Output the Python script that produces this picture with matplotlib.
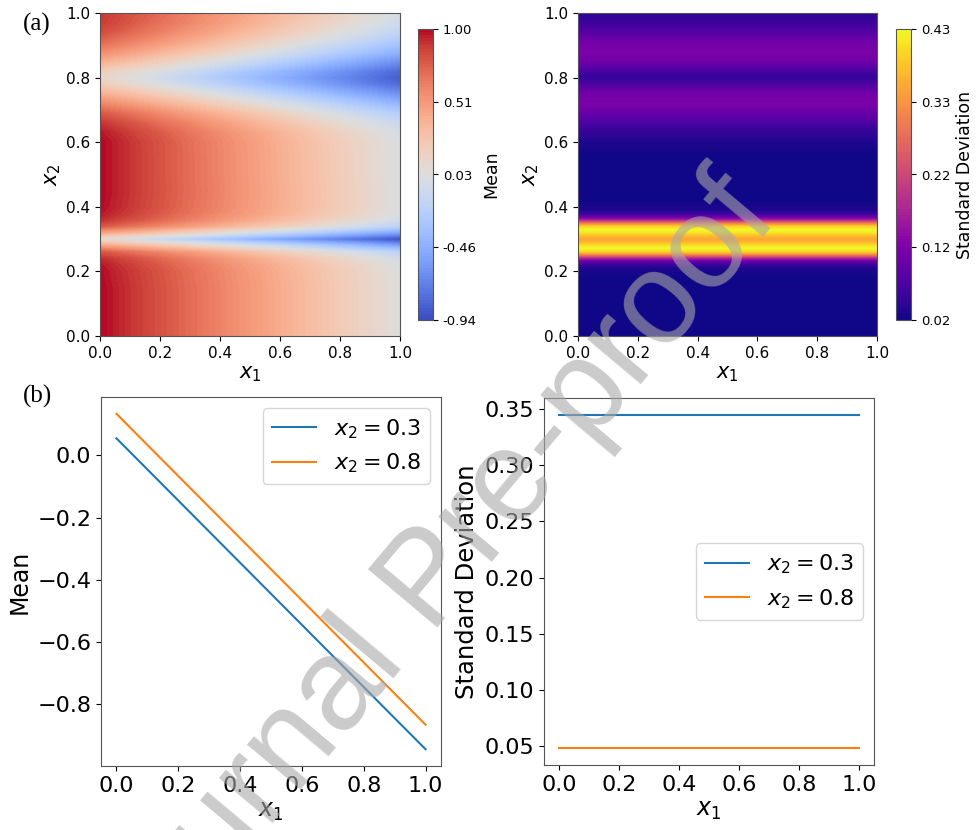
import numpy as np
import matplotlib
matplotlib.use("Agg")
import matplotlib.pyplot as plt
from matplotlib.ticker import FormatStrFormatter

# ---------------- data ----------------
x1_edges = [0.0, 1.0]

# predictive mean along x2 at the two ends of x1
mean_x2 = [0.00, 0.05, 0.10, 0.15, 0.20, 0.22, 0.24, 0.26, 0.28, 0.30, 0.32,
           0.34, 0.36, 0.38, 0.40, 0.45, 0.50, 0.55, 0.60, 0.63, 0.66, 0.69,
           0.72, 0.75, 0.78, 0.80, 0.82, 0.85, 0.88, 0.91, 0.94, 0.97, 1.00]
mean_at_x1_0 = [1.00, 1.00, 1.00, 1.00, 0.99, 0.97, 0.92, 0.78, 0.45, 0.055,
                0.45, 0.78, 0.92, 0.97, 0.99, 1.00, 1.00, 1.00, 1.00, 0.97,
                0.90, 0.78, 0.60, 0.40, 0.20, 0.134, 0.20, 0.40, 0.58, 0.72,
                0.82, 0.88, 0.90]
mean_at_x1_1 = [0.03, 0.03, 0.03, 0.03, 0.02, 0.00, -0.06, -0.20, -0.55, -0.945,
                -0.55, -0.20, -0.06, 0.00, 0.02, 0.02, 0.01, 0.01, 0.00, -0.03,
                -0.12, -0.25, -0.44, -0.64, -0.82, -0.866, -0.82, -0.64, -0.45,
                -0.30, -0.17, -0.08, -0.03]

# predictive standard deviation along x2 (constant along x1)
std_x2 = [0.00, 0.10, 0.18, 0.21, 0.22, 0.23, 0.24, 0.25, 0.26, 0.27, 0.28,
          0.29, 0.30, 0.31, 0.32, 0.33, 0.34, 0.35, 0.36, 0.37, 0.38, 0.39,
          0.42, 0.50, 0.56, 0.60, 0.64, 0.68, 0.72, 0.75, 0.78, 0.80, 0.82,
          0.85, 0.88, 0.91, 0.94, 0.97, 1.00]
std_vals = [0.018, 0.018, 0.02, 0.03, 0.05, 0.09, 0.17, 0.29, 0.39, 0.43, 0.41,
            0.37, 0.345, 0.37, 0.41, 0.43, 0.39, 0.29, 0.17, 0.09, 0.05, 0.03,
            0.02, 0.018, 0.02, 0.03, 0.05, 0.09, 0.118, 0.11, 0.07, 0.048, 0.065,
            0.105, 0.12, 0.11, 0.08, 0.055, 0.04]

slice_x2 = [0.3, 0.8]
slice_labels = [r"$x_2 = 0.3$", r"$x_2 = 0.8$"]
slice_colors = ["#1f77b4", "#ff7f0e"]

# ---------------- figure ----------------
W, H = 977, 830
fig = plt.figure(figsize=(W / 100, H / 100), dpi=100)


def px_axes(x0, y0, x1, y1):
    return fig.add_axes([x0 / W, 1 - y1 / H, (x1 - x0) / W, (y1 - y0) / H])


mean_grid = np.column_stack([mean_at_x1_0, mean_at_x1_1])
std_grid = np.column_stack([std_vals, std_vals])

X1m, X2m = np.meshgrid(x1_edges, mean_x2)
X1s, X2s = np.meshgrid(x1_edges, std_x2)

panels = [
    dict(box=(100, 13, 400, 336), cbox=(418, 29, 433, 320), X=X1m, Y=X2m,
         Z=mean_grid, cmap="coolwarm", label="Mean"),
    dict(box=(578, 13, 877, 336), cbox=(896, 29, 911, 320), X=X1s, Y=X2s,
         Z=std_grid, cmap="plasma", label="Standard Deviation"),
]

for p in panels:
    ax = px_axes(*p["box"])
    vmin, vmax = p["Z"].min(), p["Z"].max()
    levels = np.linspace(vmin, vmax, 101)
    cs = ax.contourf(p["X"], p["Y"], p["Z"], levels=levels, cmap=p["cmap"])
    ax.set_xlim(0, 1)
    ax.set_ylim(0, 1)
    ax.set_xticks(np.arange(0, 1.01, 0.2))
    ax.set_yticks(np.arange(0, 1.01, 0.2))
    ax.tick_params(labelsize=11)
    ax.set_xlabel(r"$x_1$", fontsize=15, labelpad=2)
    ax.set_ylabel(r"$x_2$", fontsize=15, labelpad=2)
    for s in ax.spines.values():
        s.set_edgecolor("#555555")
    cax = px_axes(*p["cbox"])
    cb = fig.colorbar(cs, cax=cax, ticks=np.linspace(vmin, vmax, 5))
    cb.ax.yaxis.set_major_formatter(FormatStrFormatter("%.2f"))
    cb.ax.tick_params(labelsize=9.5)
    cb.set_label(p["label"], fontsize=12.5)
    cb.outline.set_edgecolor("#555555")

# ---------------- slices ----------------
row_idx = [mean_x2.index(v) for v in slice_x2]
std_idx = [std_x2.index(v) for v in slice_x2]

ax3 = px_axes(101, 397, 441, 766)
for r, lab, c in zip(row_idx, slice_labels, slice_colors):
    ax3.plot(x1_edges, [mean_at_x1_0[r], mean_at_x1_1[r]], color=c, lw=1.5,
             label=lab)
ax3.set_xticks(np.arange(0, 1.01, 0.2))
ax3.set_yticks([0.0, -0.2, -0.4, -0.6, -0.8])
ax3.tick_params(labelsize=16)
ax3.set_xlabel(r"$x_1$", fontsize=17, labelpad=2)
ax3.set_ylabel("Mean", fontsize=17)
ax3.legend(loc="upper right", fontsize=16)
for s in ax3.spines.values():
    s.set_edgecolor("#555555")

ax4 = px_axes(544, 398, 874, 765)
for r, lab, c in zip(std_idx, slice_labels, slice_colors):
    ax4.plot(x1_edges, [std_vals[r], std_vals[r]], color=c, lw=1.5, label=lab)
ax4.set_xticks(np.arange(0, 1.01, 0.2))
ax4.set_yticks(np.arange(0.05, 0.351, 0.05))
ax4.yaxis.set_major_formatter(FormatStrFormatter("%.2f"))
ax4.tick_params(labelsize=16)
ax4.set_xlabel(r"$x_1$", fontsize=17, labelpad=2)
ax4.set_ylabel("Standard Deviation", fontsize=17.5)
ax4.legend(loc="center right", fontsize=16)
for s in ax4.spines.values():
    s.set_edgecolor("#555555")

# ---------------- panel tags ----------------
fig.text(37 / W, 1 - 24 / H, "(a)", family="Liberation Serif", fontsize=18,
         ha="center", va="center")
fig.text(37 / W, 1 - 396 / H, "(b)", family="Liberation Serif", fontsize=18,
         ha="center", va="center")

# ---------------- watermark ----------------
fig.text(430 / W, 1 - 582 / H, "Journal Pre-proof", family="Liberation Sans",
         fontsize=94, rotation=50, color="#a8a8a8", alpha=0.6,
         ha="center", va="center", rotation_mode="anchor", zorder=10)

fig.savefig("out.png", dpi=100)
